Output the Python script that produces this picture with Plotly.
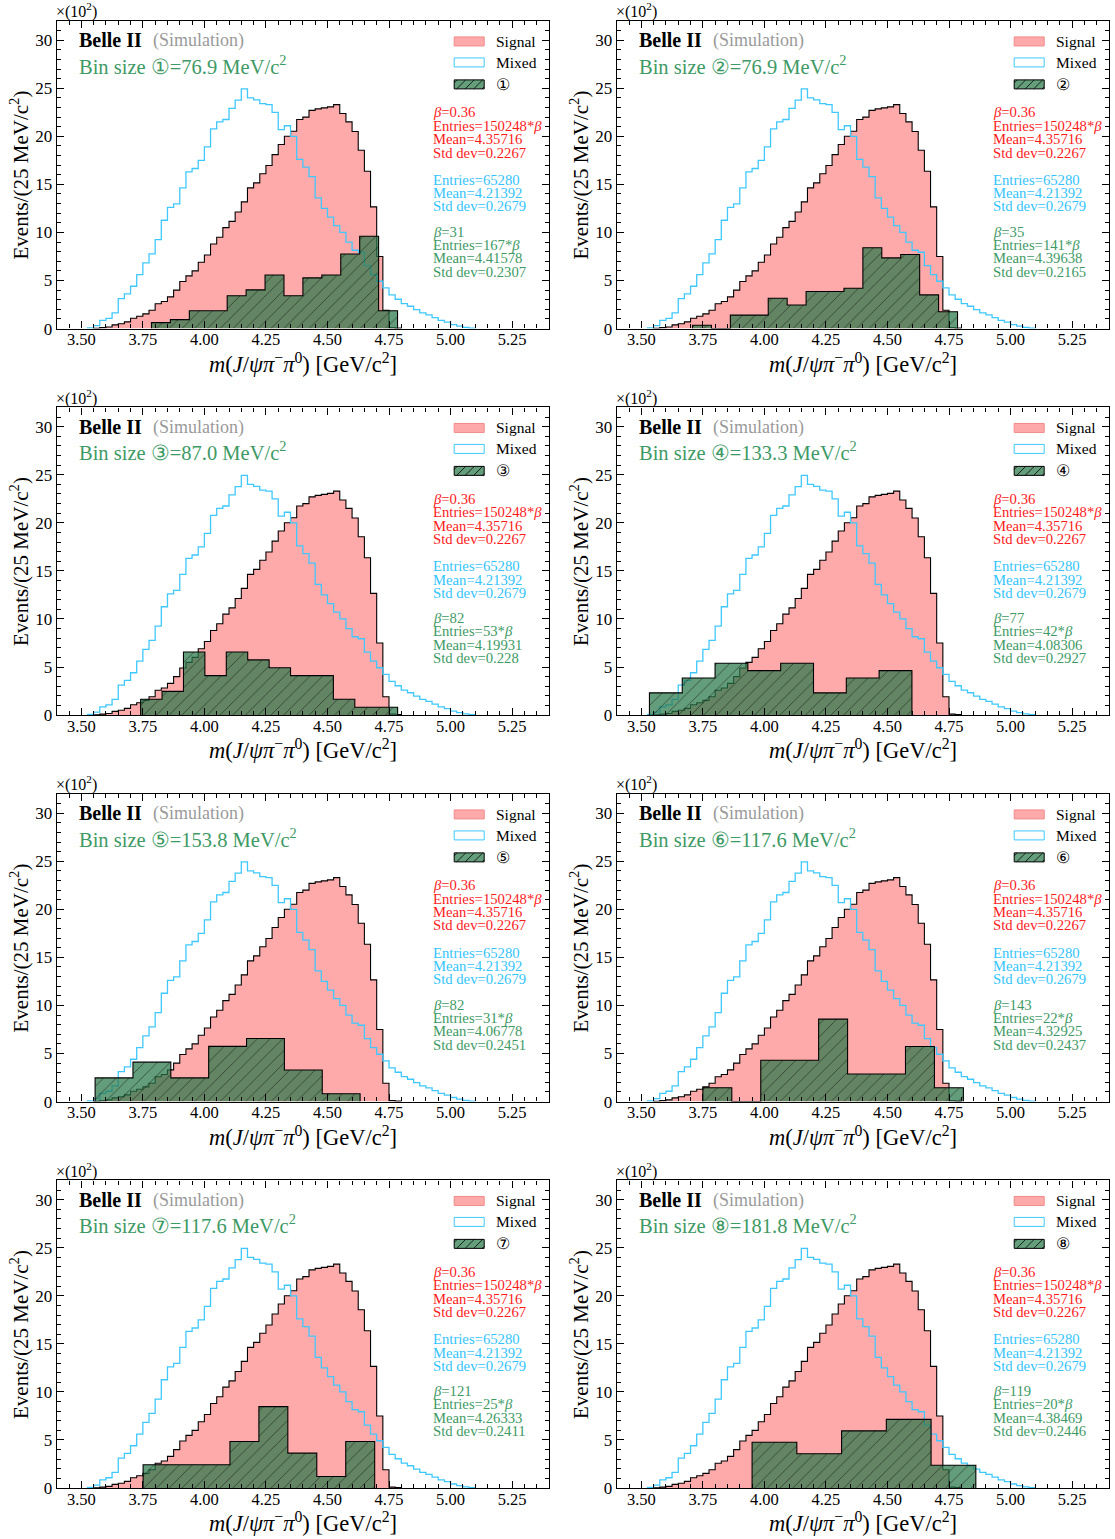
import plotly.graph_objects as go

FIG_W, FIG_H = 1115, 1539
# vertical extent the page actually occupies once rendered
PLACE_H = 1531.0
FONT = "Liberation Serif"

# ---------------------------------------------------------------------------
# Reference histograms, 25 MeV bins, heights in units of 10^2 events
# ---------------------------------------------------------------------------
BIN_WIDTH = 0.025

signal_first_edge = 3.55
signal_heights = [
    0.03, 0.10, 0.17, 0.38, 0.50, 0.70, 1.08, 1.28, 1.53, 1.90,
    2.58, 2.81, 3.30, 4.00, 4.90, 5.48, 6.00, 6.90, 7.65, 8.80,
    9.50, 10.50, 11.15, 12.12, 13.18, 14.64, 15.16, 16.10, 16.96, 18.10,
    19.15, 20.00, 20.53, 21.75, 22.00, 22.70, 22.85, 22.96, 23.06, 23.30,
    22.37, 21.50, 20.50, 18.55, 16.37, 12.66, 7.50, 1.90, 0.10, 0.05,
]

mixed_first_edge = 3.525
mixed_heights = [
    0.07, 0.30, 0.86, 1.07, 1.63, 3.12, 3.60, 4.40, 5.62, 6.84,
    7.77, 9.26, 11.27, 12.60, 12.97, 14.64, 16.30, 16.65, 17.50, 18.90,
    20.78, 21.50, 21.75, 22.90, 23.76, 24.94, 24.00, 23.80, 23.40, 23.30,
    22.50, 20.70, 21.10, 20.00, 17.60, 16.80, 15.80, 13.60, 12.50, 11.60,
    10.70, 10.00, 9.00, 8.15, 7.94, 6.55, 5.62, 4.92, 4.23, 3.50,
    3.05, 2.60, 2.32, 1.98, 1.63, 1.42, 1.14, 0.86, 0.66, 0.42,
    0.25, 0.12, 0.05,
]

signal_beta = "0.36"
signal_entries = "150248"
signal_mean = "4.35716"
signal_std = "0.2267"

mixed_entries = "65280"
mixed_mean = "4.21392"
mixed_std = "0.2679"

# ---------------------------------------------------------------------------
# Sub-samples (one per panel): raw counts per bin, scaled by beta
# ---------------------------------------------------------------------------
sample_labels = ["①", "②", "③", "④", "⑤", "⑥", "⑦", "⑧"]
sample_bin_mev = [76.9, 76.9, 87.0, 133.3, 153.8, 117.6, 117.6, 181.8]
sample_first_edge = [3.785, 3.708, 3.741, 3.533, 3.556, 3.750, 3.751, 3.950]
sample_counts = [
    [2, 3, 6, 6, 11, 13, 18, 11, 17, 18, 25, 31, 6],
    [1, 0, 4, 4, 9, 7, 11, 11, 12, 24, 21, 22, 10, 5],
    [2, 3, 8, 5, 8, 7, 6, 5, 5, 2, 1, 1],
    [3, 5, 7, 6, 7, 3, 5, 6],
    [3, 5, 3, 7, 8, 4, 1],
    [1, 0, 3, 3, 6, 2, 2, 4, 1],
    [2, 2, 2, 4, 7, 3, 1, 4],
    [4, 3, 5, 6, 2],
]
sample_beta = [31, 35, 82, 77, 82, 143, 121, 119]
sample_mean = ["4.41578", "4.39638", "4.19931", "4.08306",
               "4.06778", "4.32925", "4.26333", "4.38469"]
sample_std = ["0.2307", "0.2165", "0.228", "0.2927",
              "0.2451", "0.2437", "0.2411", "0.2446"]

# ---------------------------------------------------------------------------
# Style
# ---------------------------------------------------------------------------
PINK = "#FFAAAA"
CYAN = "#3FC8FF"
GREEN_FILL = "rgba(40,120,72,0.72)"
RED_TXT = "#FF1A1A"
BLUE_TXT = "#33C4FF"
GREEN_TXT = "#3D9A64"
GREY_TXT = "#9A9A9A"

# panel frames in pixels (left/top of plotting area)
COL_LEFT = [56.7, 616.7]
ROW_TOP = [21.0, 408.0, 795.0, 1182.0]
PANEL_W = 492.3
PANEL_H = 308.0
X_RANGE = [3.4, 5.4]
Y_RANGE = [0.0, 32.0]


def step_xy(first_edge, width, heights):
    """Outline of a filled step histogram, closed down to zero at both ends."""
    edges = [first_edge + i * width for i in range(len(heights) + 1)]
    xs = [edges[0]] + edges[:-1] + [edges[-1]]
    ys = [0.0] + list(heights) + [0.0]
    return xs, ys


def fx(px):
    return px / FIG_W


def fy(py):
    return 1.0 - py / PLACE_H


def text(t, x, y, size, color="black", xanchor="left", yanchor="middle", angle=0):
    return dict(text=t, x=fx(x), y=fy(y), xref="paper", yref="paper",
                showarrow=False, xanchor=xanchor, yanchor=yanchor,
                textangle=angle, borderpad=0,
                font=dict(family=FONT, size=size, color=color))


fig = go.Figure()
annotations = []
shapes = []
layout = dict(
    width=FIG_W, height=FIG_H,
    margin=dict(l=0, r=0, t=0, b=0),
    paper_bgcolor="white", plot_bgcolor="white",
    showlegend=False,
    font=dict(family=FONT, color="black"),
)

for k in range(8):
    row, col = divmod(k, 2)
    pl = COL_LEFT[col]
    pt = ROW_TOP[row]
    pr = pl + PANEL_W
    pb = pt + PANEL_H
    n = "" if k == 0 else str(k + 1)
    xa, ya = "x" + n, "y" + n

    layout["xaxis" + n] = dict(
        domain=[fx(pl), fx(pr)], range=X_RANGE, anchor=ya,
        tick0=3.5, dtick=0.25, tickformat=".2f",
        ticks="inside", ticklen=7, tickwidth=1, tickcolor="black",
        showline=True, linecolor="black", linewidth=1.2, mirror="allticks",
        showgrid=False, zeroline=False, ticklabelstandoff=-4,
        tickfont=dict(family=FONT, size=16.5, color="black"),
        minor=dict(ticks="inside", ticklen=4, tickwidth=1, tickcolor="black",
                   tick0=3.5, dtick=0.05, showgrid=False),
    )
    layout["yaxis" + n] = dict(
        domain=[fy(pb), fy(pt)], range=Y_RANGE, anchor=xa,
        tick0=0, dtick=5,
        ticks="inside", ticklen=7, tickwidth=1, tickcolor="black",
        showline=True, linecolor="black", linewidth=1.2, mirror="allticks",
        showgrid=False, zeroline=False,
        tickfont=dict(family=FONT, size=17, color="black"),
        minor=dict(ticks="inside", ticklen=4, tickwidth=1, tickcolor="black",
                   tick0=0, dtick=1, showgrid=False),
    )

    # signal: filled pink step histogram with black outline
    sx, sy = step_xy(signal_first_edge, BIN_WIDTH, signal_heights)
    fig.add_trace(go.Scatter(
        x=sx, y=sy, mode="lines", xaxis=xa, yaxis=ya,
        line=dict(color="black", width=1.1, shape="hv"),
        fill="tozeroy", fillcolor=PINK, hoverinfo="skip", showlegend=False))

    # mixed: open cyan step histogram
    mx, my = step_xy(mixed_first_edge, BIN_WIDTH, mixed_heights)
    fig.add_trace(go.Scatter(
        x=mx, y=my, mode="lines", xaxis=xa, yaxis=ya,
        line=dict(color=CYAN, width=1.3, shape="hv"),
        hoverinfo="skip", showlegend=False))

    # sub-sample: hatched green, counts scaled by beta, in units of 10^2
    beta = sample_beta[k]
    heights = [c * beta / 100.0 for c in sample_counts[k]]
    gx, gy = step_xy(sample_first_edge[k], sample_bin_mev[k] / 1000.0, heights)
    fig.add_trace(go.Scatter(
        x=gx, y=gy, mode="lines", xaxis=xa, yaxis=ya,
        line=dict(color="black", width=1.1, shape="hv"),
        fill="tozeroy", fillcolor=GREEN_FILL,
        fillpattern=dict(shape="/", fgcolor="black", size=9, solidity=0.1,
                         fillmode="overlay"),
        hoverinfo="skip", showlegend=False))

    # exponent marker and axis titles
    annotations.append(text("×(10<sup>2</sup>)", pl - 2, pt - 10, 16))
    annotations.append(text(
        "<i>m</i>(<i>J</i>/<i>ψπ</i><sup>−</sup><i>π</i><sup>0</sup>) [GeV/c<sup>2</sup>]",
        pl + PANEL_W / 2, pb + 34, 22.5, xanchor="center"))
    annotations.append(text("Events/(25 MeV/c<sup>2</sup>)", pl - 37, pt + PANEL_H / 2,
                            21, xanchor="center", angle=-90))

    # experiment tag and bin size
    annotations.append(text("<b>Belle II</b>", pl + 21, pt + 19.5, 20))
    annotations.append(text("(Simulation)", pl + 95, pt + 20, 18, color=GREY_TXT))
    annotations.append(text(
        "Bin size %s=%.1f MeV/c<sup>2</sup>" % (sample_labels[k], sample_bin_mev[k]),
        pl + 21, pt + 44, 20.5, color=GREEN_TXT))

    # hand-drawn legend
    bx0, bx1 = pl + 397.5, pl + 427.5
    rows_y = [20.5, 41.5, 63.5]
    legend_items = [("Signal", PINK, "#F08A8A"),
                    ("Mixed", "white", CYAN),
                    (sample_labels[k], GREEN_FILL, "black")]
    for (lab, fc, lc), cy in zip(legend_items, rows_y):
        y0, y1 = pt + cy - 4.5, pt + cy + 4.5
        shapes.append(dict(type="rect", xref="paper", yref="paper",
                           x0=fx(bx0), x1=fx(bx1), y0=fy(y1), y1=fy(y0),
                           fillcolor=fc, line=dict(color=lc, width=1)))
        annotations.append(text(lab, pl + 438.5, pt + cy, 15.5))
    # diagonal hatching of the sub-sample legend box
    cy = rows_y[2]
    yb, ytop = pt + cy + 4.5, pt + cy - 4.5
    h = yb - ytop
    start = bx0 - h + 3
    while start < bx1:
        t0 = max(0.0, bx0 - start)
        t1 = min(h, bx1 - start)
        if t1 > t0:
            shapes.append(dict(type="line", xref="paper", yref="paper",
                               x0=fx(start + t0), y0=fy(yb - t0),
                               x1=fx(start + t1), y1=fy(yb - t1),
                               line=dict(color="black", width=0.8)))
        start += 8.5

    # statistics boxes
    sx0 = pl + 375
    stat_lines = [
        ("<i>β</i>=" + signal_beta, 91.5, RED_TXT),
        ("Entries=" + signal_entries + "*<i>β</i>", 105, RED_TXT),
        ("Mean=" + signal_mean, 118.3, RED_TXT),
        ("Std dev=" + signal_std, 131.7, RED_TXT),
        ("Entries=" + mixed_entries, 159, BLUE_TXT),
        ("Mean=" + mixed_mean, 172.3, BLUE_TXT),
        ("Std dev=" + mixed_std, 185.7, BLUE_TXT),
        ("<i>β</i>=%d" % beta, 211, GREEN_TXT),
        ("Entries=%d*<i>β</i>" % sum(sample_counts[k]), 224.3, GREEN_TXT),
        ("Mean=" + sample_mean[k], 237.7, GREEN_TXT),
        ("Std dev=" + sample_std[k], 251, GREEN_TXT),
    ]
    for s, dy, c in stat_lines:
        annotations.append(text(s, sx0, pt + dy, 14.7, color=c))

layout["annotations"] = annotations
layout["shapes"] = shapes
fig.update_layout(**layout)
fig.write_html("out.html")
